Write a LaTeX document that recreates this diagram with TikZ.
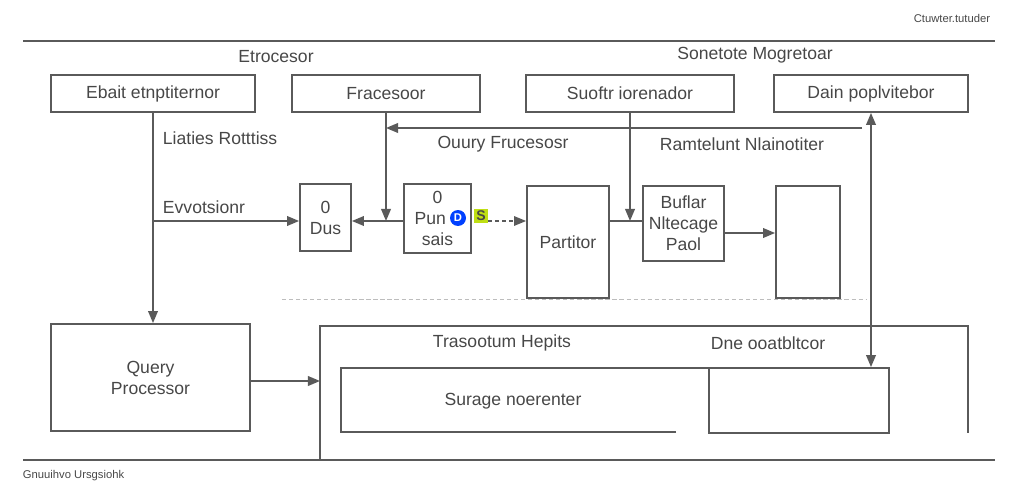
\documentclass[tikz,border=0pt]{standalone}
\usepackage{fontspec}
\setmainfont{Liberation Sans}
\usepackage{tikz}
\usetikzlibrary{arrows.meta}

\definecolor{ink}{HTML}{5A5A5A}
\definecolor{txt}{HTML}{474747}

\begin{document}
\begin{tikzpicture}[x=0.025cm,y=-0.025cm,
	every node/.style={text=txt,font=\fontsize{12.5}{15}\selectfont},
	unit/.style={draw=ink,line width=1.3pt,align=center,inner sep=2pt},
	wire/.style={draw=ink,line width=1.3pt},
	arr/.style={wire,-{Triangle[length=3mm,width=2.4mm]}},
	tag/.style={font=\fontsize{8}{9}\selectfont}]
	\useasboundingbox (0,0) rectangle (1014,492);

	\draw[wire] (23,41) -- (995,41);
	\draw[wire] (23,460) -- (995,460);
	\node[tag,anchor=east] (corner note) at (995,18) {Ctuwter.tutuder};
	\node[tag,anchor=west] (foot note) at (18,476) {Gnuuihvo Ursgsiohk};

	\node (proc title) at (276,57) {Etrocesor};
	\node (store title) at (755,55) {Sonetote Mogretoar};

	\node[unit,minimum width=5.1cm,minimum height=0.925cm] (ebait) at (153,93.5) {Ebait etnptiternor};
	\node[unit,minimum width=4.7cm,minimum height=0.925cm] (fraces) at (386,93.5) {Fracesoor};
	\node[unit,minimum width=5.2cm,minimum height=0.925cm] (suoftr) at (630,93.5) {Suoftr iorenador};
	\node[unit,minimum width=4.85cm,minimum height=0.925cm] (dain) at (871,93.5) {Dain poplvitebor};

	\node[anchor=west] (liaties) at (158,138) {Liaties Rotttiss};
	\node[anchor=west] (evvot) at (158,207) {Evvotsionr};
	\node (ouury) at (503,144) {Ouury Frucesosr};
	\node (ramtel) at (742,144) {Ramtelunt Nlainotiter};

	\node[unit,minimum width=1.275cm,minimum height=1.675cm] (dus) at (325.5,217.5) {0\\Dus};
	\node[unit,minimum width=1.675cm,minimum height=1.725cm] (pun) at (437.5,218.5) {0\\\makebox[2.6em][l]{Pun}\\sais};
	\node[circle,fill=blue!75!cyan,text=white,inner sep=1.2pt,font=\fontsize{8}{9}\bfseries] (badge d) at (458,218) {D};
	\node[fill=yellow!75!green,inner sep=1.5pt,font=\fontsize{10}{11}\bfseries] (badge s) at (481,216) {S};
	\node[unit,minimum width=2.05cm,minimum height=2.8cm] (part) at (568,242) {Partitor};
	\node[unit,minimum width=2.025cm,minimum height=1.875cm] (buf) at (683.5,223.5) {Buflar\\Nltecage\\Paol};
	\node[unit,minimum width=1.6cm,minimum height=2.8cm] (slot) at (808,242) {};

	\draw[ink!40,line width=0.6pt,densely dashed] (282,299) -- (866,299);

	\node[unit,minimum width=4.975cm,minimum height=2.675cm] (qp) at (150.5,377.5) {Query\\Processor};
	\draw[wire] (320,460) -- (320,326) -- (968,326) -- (968,433);
	\coordinate (txn w) at (320,381);
	\node (trasoo) at (502,343) {Trasootum Hepits};
	\node (dne) at (768,343) {Dne ooatbltcor};
	\draw[wire] (676,432) -- (341,432) -- (341,368) -- (709,368);
	\node (surage) at (513,401) {Surage noerenter};
	\node[unit,minimum width=4.5cm,minimum height=1.625cm] (store slot) at (799,400.5) {};

	\coordinate (row) at (0,221);
	\coordinate (ram r) at (862,128);
	\draw[arr] (ebait.south) -- (ebait.south |- qp.north);
	\draw[arr] (ebait.south |- row) -- (dus.west |- row);
	\draw[arr] (fraces.south) -- (fraces.south |- row);
	\draw[arr] (ram r) -- (fraces.south |- ram r);
	\draw[arr] (pun.west |- row) -- (dus.east |- row);
	\draw[arr,densely dashed,line width=0.8pt] (badge s.east |- row) -- (part.west |- row);
	\draw[wire] (part.east |- row) -- (buf.west |- row);
	\draw[arr] (suoftr.south) -- (suoftr.south |- row);
	\draw[arr] (buf.east |- 0,233) -- (slot.west |- 0,233);
	\draw[wire,{Triangle[length=3mm,width=2.4mm]}-{Triangle[length=3mm,width=2.4mm]}] (dain.south) -- (dain.south |- store slot.north);
	\draw[arr] (qp.east |- txn w) -- (txn w);
\end{tikzpicture}
\end{document}
